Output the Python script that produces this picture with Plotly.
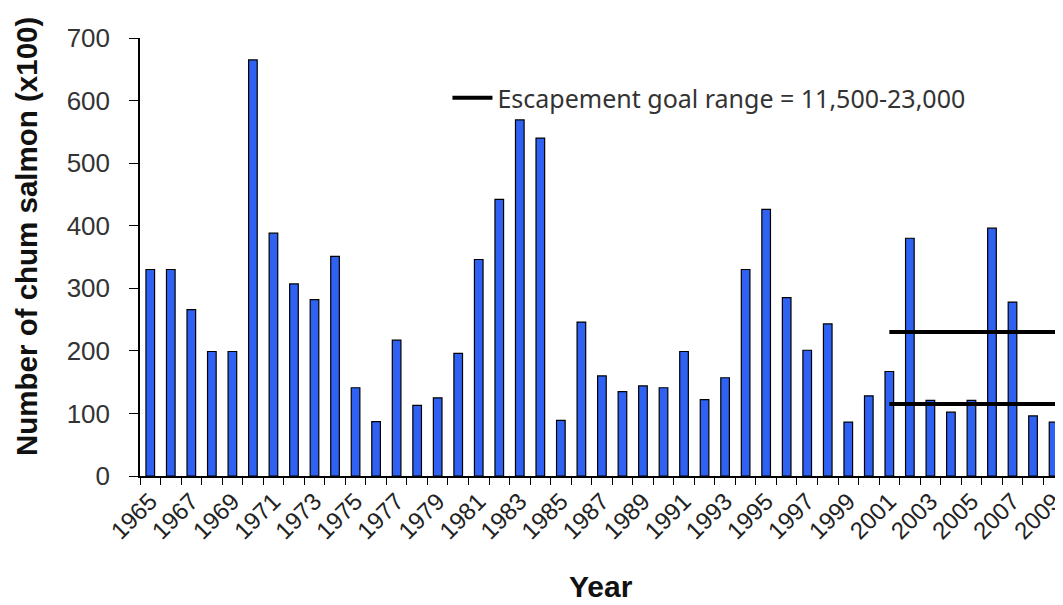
import plotly.graph_objects as go

# escapement counts (x100)
years = list(range(1965, 2010))
counts = [330, 330, 266, 199, 199, 665, 388, 307, 282, 351,
          141, 87, 217, 113, 125, 196, 346, 442, 569, 540,
          89, 246, 160, 135, 144, 141, 199, 122, 157, 330,
          426, 285, 201, 243, 86, 128, 167, 380, 121, 102,
          121, 396, 278, 96, 86]

# escapement goal range (x100)
goal_low = 115
goal_high = 230
goal_start = 2001
goal_end = 2012

label_years = [y for y in years if y % 2 == 1]

fig = go.Figure()

fig.add_trace(go.Bar(
    x=years,
    y=counts,
    width=0.42,
    marker=dict(color='#2f62f2', line=dict(color='black', width=1.2)),
    showlegend=False,
))

fig.add_trace(go.Scatter(
    x=[goal_start, goal_end, None, goal_start, goal_end],
    y=[goal_high, goal_high, None, goal_low, goal_low],
    mode='lines',
    line=dict(color='black', width=4),
    name='Escapement goal range = 11,500-23,000',
    showlegend=True,
))

# page body has an 8px margin, so the figure is a bit smaller than the window
W = 1047
H = 597
plot_w = W - 132
plot_h = 438.4
fig.update_layout(
    width=W,
    height=H,
    margin=dict(l=132, r=0, t=30, b=H - 30 - plot_h, pad=0),
    plot_bgcolor='white',
    paper_bgcolor='white',
    font=dict(family='Liberation Sans, Arial', color='#333333'),
    showlegend=True,
    legend=dict(
        x=0.336, y=0.863, xanchor='left', yanchor='middle',
        bgcolor='rgba(0,0,0,0)', itemwidth=40,
        font=dict(family='Noto Sans, Open Sans', size=25, color='#333333'),
    ),
)

# axis titles as annotations so they can sit where the original puts them
fig.add_annotation(
    text='<b>Number of chum salmon (x100)</b>', textangle=-90,
    xref='paper', yref='paper', x=-132 / plot_w, y=(468.7 - 229) / plot_h,
    xanchor='left', yanchor='middle', showarrow=False,
    font=dict(size=29.5, color='#111111'),
)
fig.add_annotation(
    text='<b>Year</b>',
    xref='paper', yref='paper', x=(593 - 132) / plot_w, y=-(579 - 468.7) / plot_h,
    xanchor='center', yanchor='middle', showarrow=False,
    font=dict(size=30, color='#111111'),
)

fig.update_xaxes(
    range=[1964.5, 2009.07],
    tickmode='array',
    tickvals=label_years,
    ticktext=[str(y) for y in label_years],
    tickangle=-45,
    ticks='',
    ticklabeloverflow='allow',
    tickfont=dict(size=24, color='#222222'),
    showline=True, linecolor='black', linewidth=1.5,
    showgrid=False, zeroline=False, automargin=False,
    minor=dict(ticks='outside', tick0=1964.5, dtick=1, ticklen=7,
               tickcolor='black', tickwidth=1.2, showgrid=False),
)

fig.update_yaxes(
    range=[0, 700],
    tickvals=[0, 100, 200, 300, 400, 500, 600, 700],
    ticks='outside', ticklen=9, tickcolor='black', tickwidth=1.2,
    ticklabelstandoff=14,
    tickfont=dict(size=26, color='#333333'),
    showline=True, linecolor='black', linewidth=1.5,
    showgrid=False, zeroline=False, automargin=False,
)

fig.write_html("out.html")
